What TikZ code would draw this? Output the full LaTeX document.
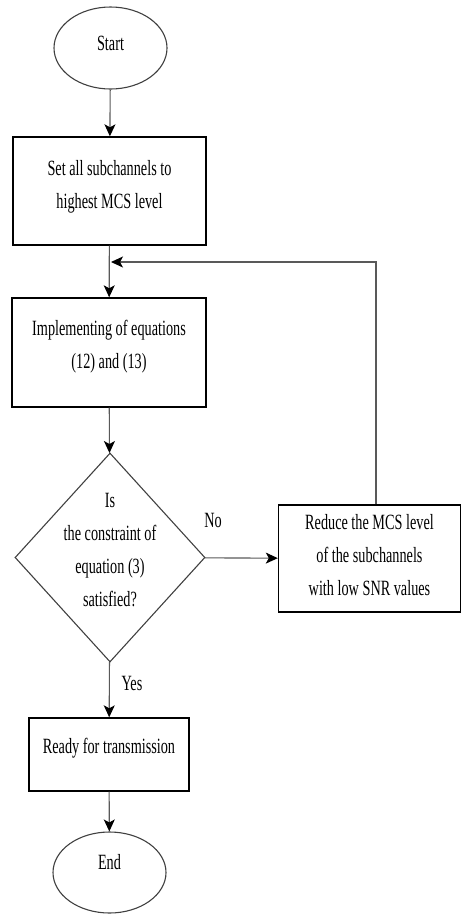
\documentclass[tikz,border=0pt]{standalone}
\usepackage{fontspec}
\usepackage{graphicx}
\setmainfont{Liberation Serif}
\usetikzlibrary{shapes.geometric,arrows.meta}
\newcommand\vs[1]{\scalebox{0.95}[1.45]{#1}}
\tikzset{
  txt/.style={font=\fontsize{15}{33}\selectfont, align=center, text=black, inner sep=0pt},
  procbox/.style={draw=black, line width=1.4pt, rectangle, inner sep=0pt},
  term/.style={draw=black!75, line width=1.1pt, ellipse, inner sep=0pt},
  dec/.style={draw=black!75, line width=1.1pt, diamond, inner sep=0pt},
  conn/.style={draw=black!65, line width=1.1pt},
  arr/.style={conn, -{Stealth[black, length=12pt, width=11pt, inset=3pt]}},
}
\begin{document}
\begin{tikzpicture}[x=1pt, y=-1pt]
\useasboundingbox (0,0) rectangle (462,914);
\node[term, minimum width=113pt, minimum height=82pt,
  label={[txt, yshift=5pt]center:\vs{Start}}] (start) at (110.5,48) {};
\node[procbox, minimum width=193pt, minimum height=108pt,
  label={[txt, yshift=4.5pt]center:{\vs{Set all subchannels to}\\\vs{highest MCS level}}}] (b1) at (109.5,191) {};
\node[procbox, minimum width=194pt, minimum height=109pt,
  label={[txt, yshift=6pt]center:{\vs{Implementing of equations}\\\vs{(12) and (13)}}}] (b2) at (109,352.5) {};
\node[dec, minimum width=190pt, minimum height=209pt,
  label={[txt, yshift=7pt]center:{\vs{Is}\\\vs{the constraint of}\\\vs{equation (3)}\\\vs{satisfied?}}}] (dc) at (110,557.5) {};
\node[procbox, minimum width=182pt, minimum height=107pt,
  label={[txt, yshift=3pt]center:{\vs{Reduce the MCS level}\\\vs{of the subchannels}\\\vs{with low SNR values}}}] (red) at (369.5,558.5) {};
\node[procbox, minimum width=160pt, minimum height=73pt,
  label={[txt, yshift=6.5pt]center:\vs{Ready for transmission}}] (b3) at (109,754.5) {};
\node[term, minimum width=113pt, minimum height=81pt,
  label={[txt, yshift=10pt]center:\vs{End}}] (end) at (109.5,872.5) {};
\coordinate (jn) at (111,262);
\node[txt] (no) at (213,520) {\vs{No}};
\node[txt] (yes) at (132,683) {\vs{Yes}};
\draw[arr] (start) -- (b1);
\draw[arr] (b1) -- (b2);
\draw[arr] (b2) -- (dc);
\draw[arr] (dc) -- (red);
\draw[arr] ([xshift=6.5pt]red.north) |- (jn);
\draw[arr] (dc) -- (b3);
\draw[arr] (b3) -- (end);
\end{tikzpicture}
\end{document}
